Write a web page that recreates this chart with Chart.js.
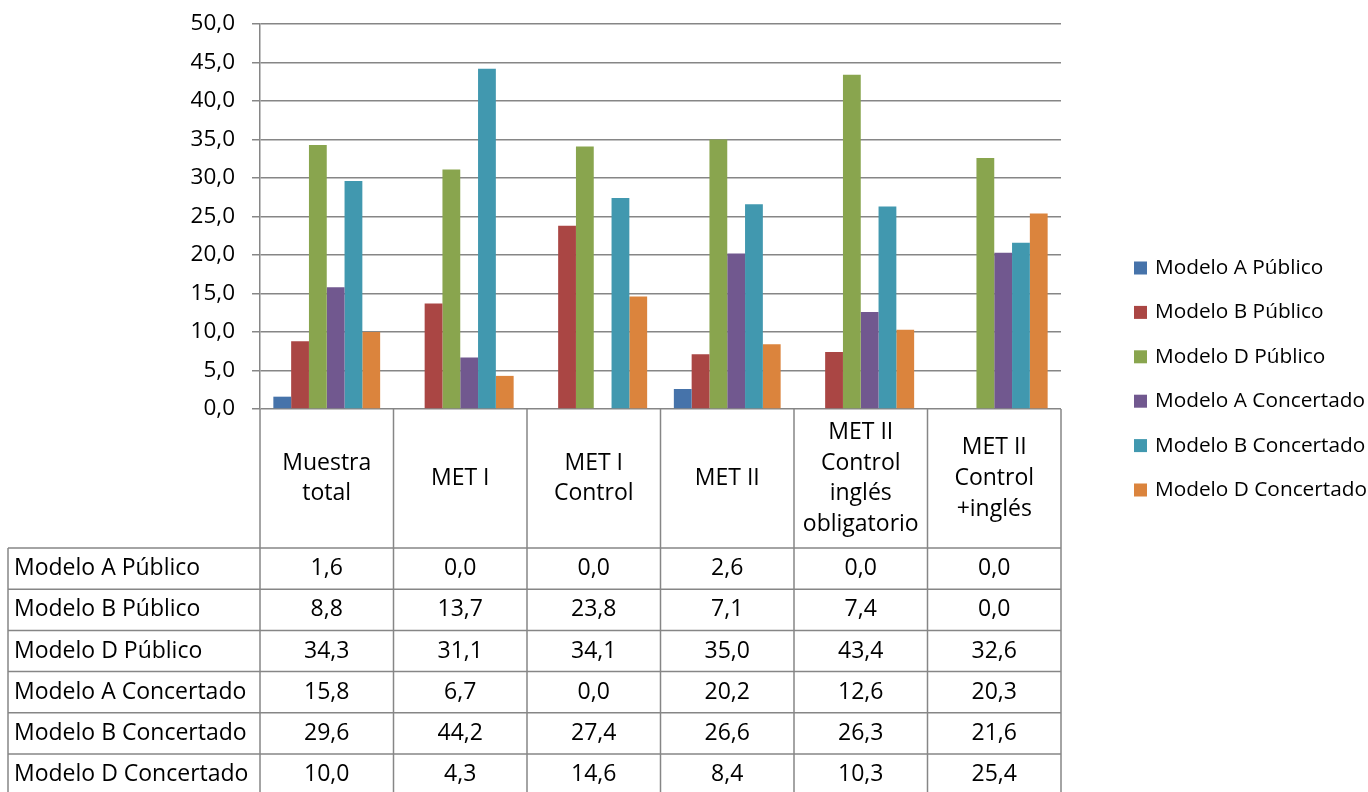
<!DOCTYPE html>
<html>
<head>
<meta charset="utf-8">
<title>Modelos lingüísticos por muestra</title>
<script src="https://cdn.jsdelivr.net/npm/chart.js@4/dist/chart.umd.min.js"></script>
<style>
  html, body { margin: 0; padding: 0; background: #fff; }
  canvas { display: block; }
</style>
</head>
<body>
<canvas id="chart" width="1368" height="792"></canvas>
<script>
// categories (multi-line headers of the data table)
const categories = [
  ['Muestra', 'total'],
  ['MET I'],
  ['MET I', 'Control'],
  ['MET II'],
  ['MET II', 'Control', 'inglés', 'obligatorio'],
  ['MET II', 'Control', '+inglés']
];

const seriesNames = [
  'Modelo A Público', 'Modelo B Público', 'Modelo D Público',
  'Modelo A Concertado', 'Modelo B Concertado', 'Modelo D Concertado'
];

const modeloAPublico     = [1.6, 0.0, 0.0, 2.6, 0.0, 0.0];
const modeloBPublico     = [8.8, 13.7, 23.8, 7.1, 7.4, 0.0];
const modeloDPublico     = [34.3, 31.1, 34.1, 35.0, 43.4, 32.6];
const modeloAConcertado  = [15.8, 6.7, 0.0, 20.2, 12.6, 20.3];
const modeloBConcertado  = [29.6, 44.2, 27.4, 26.6, 26.3, 21.6];
const modeloDConcertado  = [10.0, 4.3, 14.6, 8.4, 10.3, 25.4];

const yMin = 0, yMax = 50, yStep = 5;

const seriesColors = ['#4673AA', '#AA4644', '#89A54E', '#71588F', '#4198AF', '#DB843D'];
const allSeries = [modeloAPublico, modeloBPublico, modeloDPublico,
                   modeloAConcertado, modeloBConcertado, modeloDConcertado];

const FONT = '"Open Sans", "Noto Sans", sans-serif';
const LINE = '#868686';
const fmt = v => v.toFixed(1).replace('.', ',');

// data table under the plot + legend on the right
const dataTablePlugin = {
  id: 'dataTable',
  afterDraw(chart) {
    const ctx = chart.ctx;
    const area = chart.chartArea;
    const xs = chart.scales.x;
    const n = chart.data.labels.length;
    const colW = (area.right - area.left) / n;
    const headTop = area.bottom;
    const headBottom = 548;
    const rowH = 41.2;
    const tableLeft = 8;
    const nRows = chart.data.datasets.length;
    const tableBottom = headBottom + rowH * nRows;

    ctx.save();
    ctx.strokeStyle = LINE;
    ctx.lineWidth = 1.5;
    ctx.beginPath();
    // column separators
    for (let i = 0; i <= n; i++) {
      const x = area.left + i * colW;
      ctx.moveTo(x, headTop);
      ctx.lineTo(x, tableBottom);
    }
    ctx.moveTo(tableLeft, headBottom);
    ctx.lineTo(tableLeft, tableBottom);
    // row separators
    for (let r = 0; r <= nRows; r++) {
      const y = headBottom + r * rowH;
      ctx.moveTo(tableLeft, y);
      ctx.lineTo(area.right, y);
    }
    ctx.stroke();

    ctx.fillStyle = '#000';
    ctx.font = '23px ' + FONT;
    ctx.textBaseline = 'middle';

    // category headers
    ctx.textAlign = 'center';
    const lh = 30.8;
    chart.data.labels.forEach((lines, i) => {
      const cx = xs.getPixelForValue(i);
      const cy = (headTop + headBottom) / 2;
      lines.forEach((t, k) => {
        ctx.fillText(t, cx, cy + (k - (lines.length - 1) / 2) * lh);
      });
    });

    // rows
    chart.data.datasets.forEach((ds, r) => {
      const cy = headBottom + r * rowH + rowH / 2;
      ctx.textAlign = 'left';
      ctx.fillText(ds.label, tableLeft + 6, cy);
      ctx.textAlign = 'center';
      ds.data.forEach((v, i) => {
        ctx.fillText(fmt(v), xs.getPixelForValue(i), cy);
      });
    });

    // legend
    ctx.font = '20.8px ' + FONT;
    const legX = 1134, legY = 268, legStep = 44.4, box = 13;
    chart.data.datasets.forEach((ds, r) => {
      const cy = legY + r * legStep;
      ctx.fillStyle = ds.backgroundColor;
      ctx.fillRect(legX, cy - box / 2, box, box);
      ctx.fillStyle = '#000';
      ctx.textAlign = 'left';
      ctx.fillText(ds.label, legX + 21, cy);
    });
    ctx.restore();
  }
};

new Chart(document.getElementById('chart'), {
  type: 'bar',
  data: {
    labels: categories,
    datasets: allSeries.map((vals, i) => ({
      label: seriesNames[i],
      data: vals,
      backgroundColor: seriesColors[i],
      borderWidth: 0,
      categoryPercentage: 0.8,
      barPercentage: 1.0
    }))
  },
  options: {
    responsive: false,
    animation: false,
    layout: { padding: { left: 180, top: 24, right: 307, bottom: 383 } },
    plugins: { legend: { display: false }, tooltip: { enabled: false } },
    scales: {
      x: { display: false },
      y: {
        min: yMin,
        max: yMax,
        afterFit(s) {
          s.width = 80;
          s.paddingTop = 0;
          s.paddingBottom = 0;
        },
        ticks: {
          stepSize: yStep,
          padding: 17,
          color: '#000',
          font: { family: FONT, size: 22.5 },
          callback: v => fmt(v)
        },
        grid: { color: LINE, lineWidth: 1.5, tickLength: 8 },
        border: { color: LINE, width: 1.5 }
      }
    }
  },
  plugins: [dataTablePlugin]
});
</script>
</body>
</html>
